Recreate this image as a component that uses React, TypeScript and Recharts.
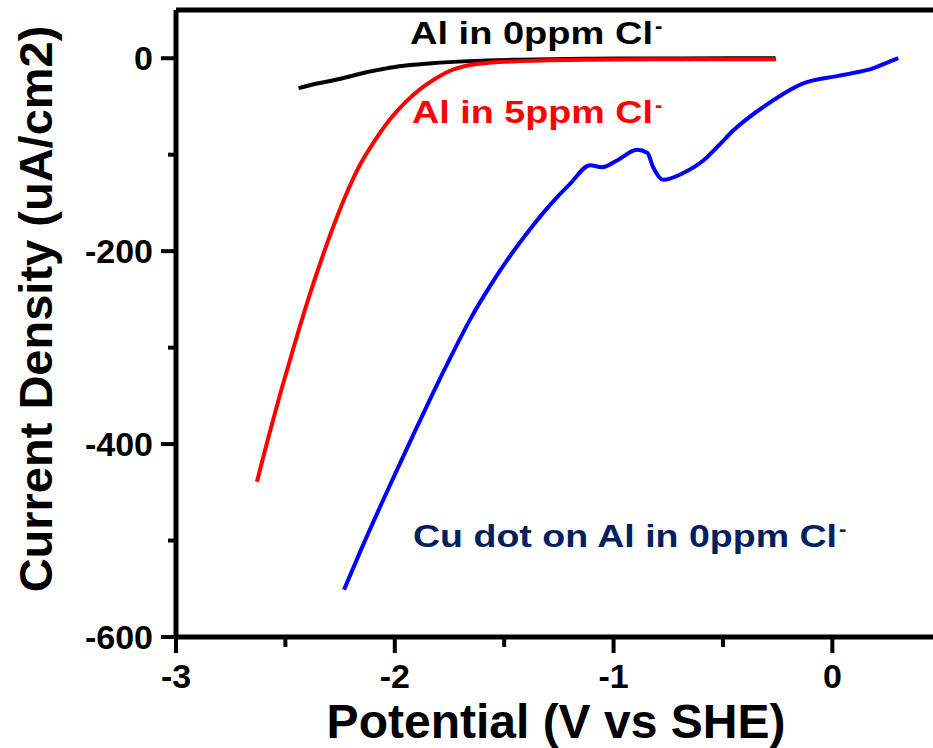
import React from 'react'
import { LineChart, Line, XAxis, YAxis, ReferenceLine, Customized } from 'recharts'

// potential (V vs SHE) and current density (uA/cm2)
const al0Potential = [-2.44, -2.36, -2.28, -2.2, -2.13, -2.05, -1.98, -1.83, -1.66, -1.43, -1.13, -0.7, -0.26]
const al0Current = [-31, -26.5, -22.8, -18.5, -14.5, -11, -8.3, -5.2, -3, -1.5, -0.5, -0.2, 0]

const al5Potential = [-2.63, -2.58, -2.52, -2.46, -2.4, -2.34, -2.28, -2.22, -2.16, -2.09, -2.021, -1.953, -1.884, -1.82, -1.747, -1.656, -1.56, -1.43, -1.13, -0.6, -0.257]
const al5Current = [-439, -395, -345, -298, -253, -212, -174, -140, -111, -85, -63, -46, -32, -22, -13, -7, -4.5, -3, -1.5, -1, -1]

const cuPotential = [-2.232, -2.159, -2.053, -1.976, -1.898, -1.825, -1.747, -1.656, -1.564, -1.473, -1.381, -1.29, -1.198, -1.107, -1.052, -0.984, -0.892, -0.846, -0.819, -0.773, -0.682, -0.59, -0.522, -0.453, -0.293, -0.133, 0.032, 0.192, 0.256, 0.301]
const cuCurrent = [-551, -512, -458, -420, -382, -347, -311, -271, -236, -205, -177, -152, -130, -111, -113, -106, -95, -98, -113, -126, -119, -106, -91, -75, -47, -26, -18, -10, -4, 0]

const xTicks = [-3, -2.5, -2, -1.5, -1, -0.5, 0]
const yTicks = [-600, -500, -400, -300, -200, -100, 0]

const toRows = (vs: number[], is: number[]) => vs.map((v, k) => ({ v, i: is[k] }))
const al0Data = toRows(al0Potential, al0Current)
const al5Data = toRows(al5Potential, al5Current)
const cuData = toRows(cuPotential, cuCurrent)

const FONT = "Arial, 'Liberation Sans', Helvetica, sans-serif"

const XTick = (props: any) => {
  const { x, y, payload } = props
  const major = Number.isInteger(payload.value)
  return (
    <g>
      <line x1={x} x2={x} y1={y} y2={y + (major ? 16 : 10)} stroke="#000" strokeWidth={4} />
      {major && (
        <text x={x} y={y + 51} textAnchor="middle" fontFamily={FONT} fontWeight="bold" fontSize={34} fill="#000">
          {payload.value}
        </text>
      )}
    </g>
  )
}

const YTick = (props: any) => {
  const { x, y, payload } = props
  const major = payload.value % 200 === 0
  return (
    <g>
      <line x1={x - (major ? 15 : 8)} x2={x} y1={y} y2={y} stroke="#000" strokeWidth={4} />
      {major && (
        <text x={x - 23} y={y + 12} textAnchor="end" fontFamily={FONT} fontWeight="bold" fontSize={34} fill="#000">
          {payload.value}
        </text>
      )}
    </g>
  )
}

const Note = ({ x, y, w, color, text }: any) => (
  <g fontFamily={FONT} fontWeight="bold" fill={color}>
    <text x={x} y={y} fontSize={32} textLength={w} lengthAdjust="spacingAndGlyphs">
      {text}
    </text>
    <text x={x + w + 2} y={y - 11} fontSize={22}>-</text>
  </g>
)

const Annotations = () => (
  <g>
    <Note x={410} y={44} w={243} color="#000" text="Al in 0ppm Cl" />
    <Note x={412} y={123} w={241} color="#ff0000" text="Al in 5ppm Cl" />
    <Note x={413} y={547} w={424} color="#002060" text="Cu dot on Al in 0ppm Cl" />
    <text x={556} y={738} textAnchor="middle" fontFamily={FONT} fontWeight="bold" fontSize={48} fill="#000">
      Potential (V vs SHE)
    </text>
    <text
      transform="translate(52, 309) rotate(-90)"
      textAnchor="middle"
      fontFamily={FONT}
      fontWeight="bold"
      fontSize={47}
      fill="#000"
    >
      Current Density (uA/cm2)
    </text>
  </g>
)

export default function App() {
  return (
    <div style={{ position: 'absolute', left: 0, top: 0, width: 933, height: 748, background: '#fff' }}>
      <LineChart width={933} height={748} margin={{ top: 10, right: 0, bottom: 0, left: 0 }}>
        <XAxis
          type="number"
          dataKey="v"
          domain={[-3, 0.46]}
          ticks={xTicks}
          interval={0}
          allowDataOverflow
          height={111}
          tickSize={0}
          tickMargin={0}
          tick={<XTick />}
          axisLine={{ stroke: '#000', strokeWidth: 5 }}
          tickLine={false}
        />
        <YAxis
          type="number"
          dataKey="i"
          domain={[-600, 50]}
          ticks={yTicks}
          interval={0}
          allowDataOverflow
          width={176}
          tickSize={0}
          tickMargin={0}
          tick={<YTick />}
          axisLine={{ stroke: '#000', strokeWidth: 5 }}
          tickLine={false}
        />
        <ReferenceLine y={50} stroke="#000" strokeWidth={5} />
        <Line data={al0Data} dataKey="i" type="monotone" stroke="#000" strokeWidth={4} dot={false} isAnimationActive={false} />
        <Line data={al5Data} dataKey="i" type="monotone" stroke="#ff0000" strokeWidth={4} dot={false} isAnimationActive={false} />
        <Line data={cuData} dataKey="i" type="monotone" stroke="#0000ff" strokeWidth={4} dot={false} isAnimationActive={false} />
        <Customized component={Annotations} />
      </LineChart>
    </div>
  )
}
